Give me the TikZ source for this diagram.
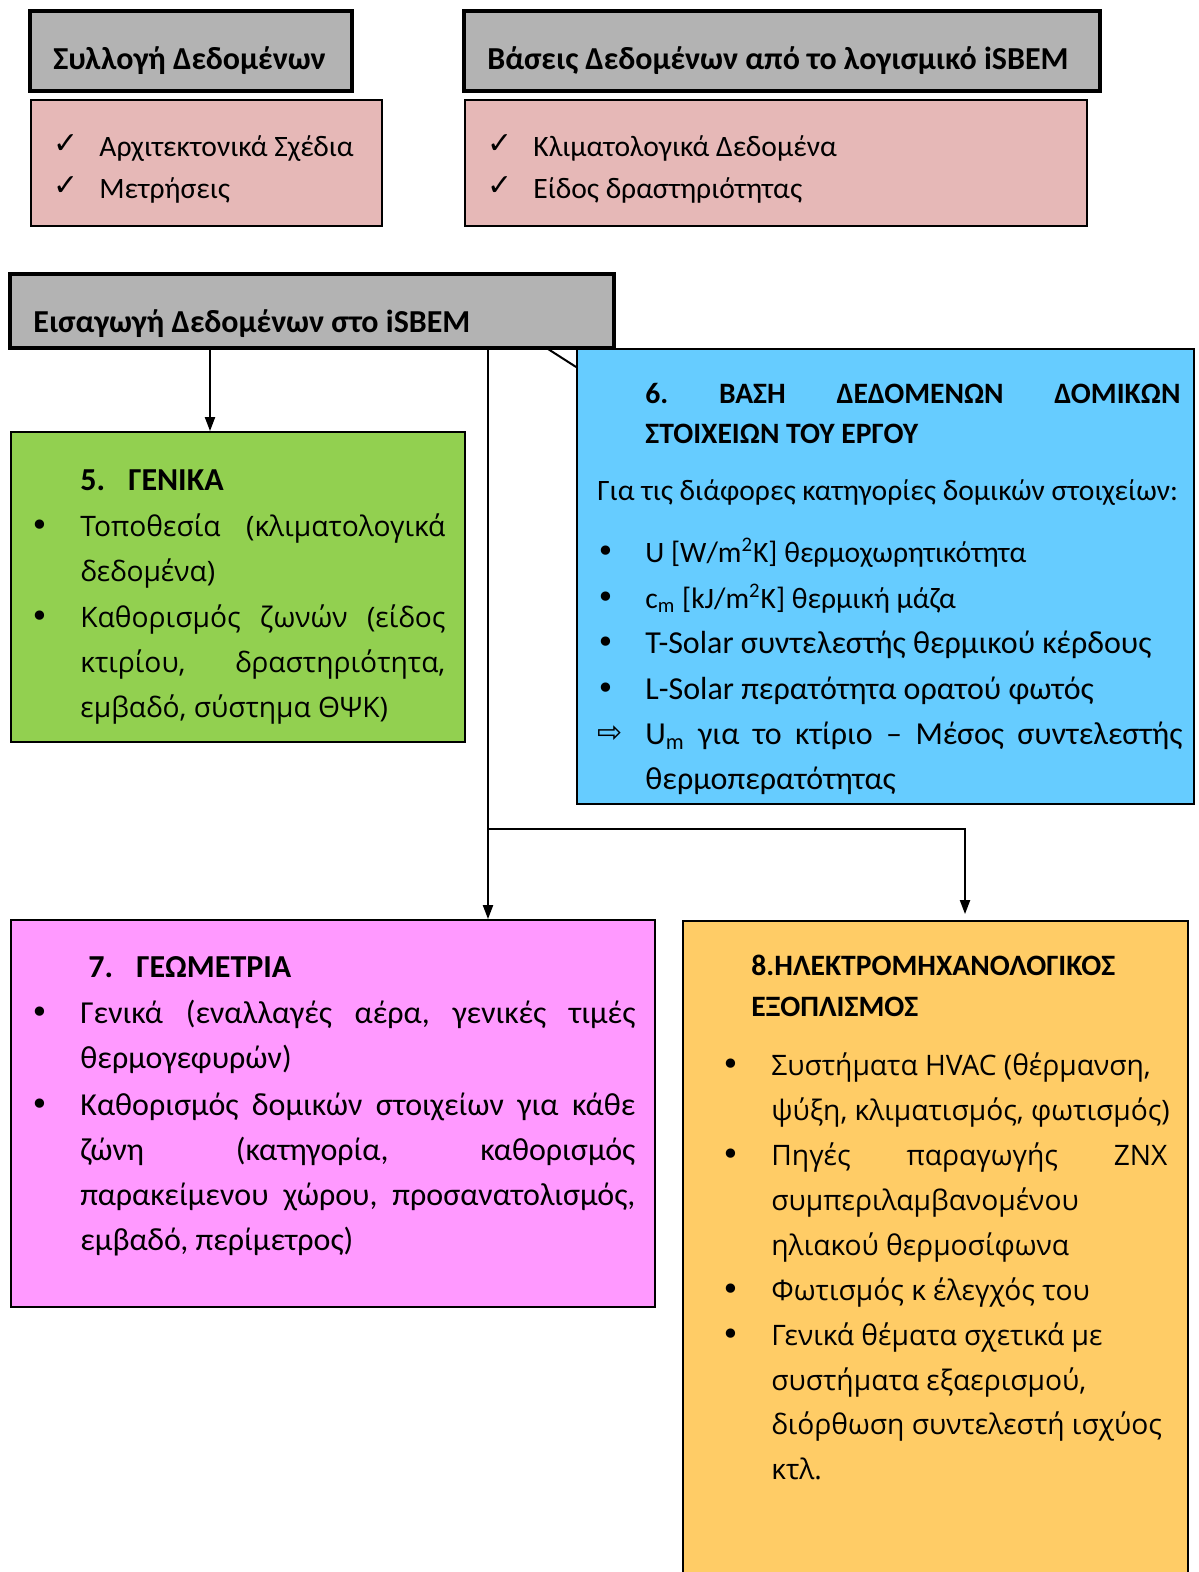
\documentclass[tikz,border=0pt]{standalone}
\usepackage{fontspec}
\setmainfont{Carlito}
\newfontfamily\osans{Open Sans}
\newfontfamily\dejavu{DejaVu Sans}
\usetikzlibrary{arrows.meta,fit}
\definecolor{hdrgray}{HTML}{B3B3B3}
\definecolor{pinkbg}{HTML}{E6B8B7}
\definecolor{greenbg}{HTML}{92D050}
\definecolor{bluebg}{HTML}{66CCFF}
\definecolor{magbg}{HTML}{FF99FF}
\definecolor{orangebg}{HTML}{FFCC66}
\frenchspacing
\begin{document}
\begin{tikzpicture}[x=0.5pt,y=-0.5pt,
 hdr/.style={draw=black, line width=2pt, fill=hdrgray, inner sep=0pt},
 bx/.style={draw=black, line width=0.9pt, inner sep=0pt},
 txt/.style={inner sep=0pt, anchor=base west, font=\fontsize{14.8}{17}\selectfont},
 txtl/.style={inner sep=0pt, anchor=base west, font=\fontsize{16}{18}\selectfont},
 txtb/.style={inner sep=0pt, anchor=base west, font=\fontsize{14.8}{17}\selectfont\bfseries},
 txtbl/.style={inner sep=0pt, anchor=base west, font=\fontsize{16}{18}\selectfont\bfseries},
 txth/.style={inner sep=0pt, anchor=base west, font=\fontsize{16}{18}\selectfont\bfseries},
 txto/.style={inner sep=0pt, anchor=base west, font=\osans\fontsize{14.1}{17}\selectfont},
 bull/.style={inner sep=0pt, anchor=base west, font=\dejavu\fontsize{16}{17}\selectfont},
 chk/.style={inner sep=0pt, anchor=base west, font=\dejavu\fontsize{15}{17}\selectfont},
 conn/.style={line width=1pt},
 arr/.style={conn, -{Triangle[length=7pt,width=5pt]}}]
\useasboundingbox (0,0) rectangle (1198,1572);
\clip (0,0) rectangle (1198,1572);
\fill[white] (0,0) rectangle (1198,1572);

% top left
\node[hdr, fit={(30,11) (352,91)}] (hA) {};
\node[txth] (hAt) at (53,70) {Συλλογή Δεδομένων};
\node[bx, fill=pinkbg, fit={(31,100) (382,226)}] (bA) {};
\node[chk] (cA1) at (53,154) {✓};
\node[txt] (tA1) at (99,157) {Αρχιτεκτονικά Σχέδια};
\node[chk] (cA2) at (53,196) {✓};
\node[txt] (tA2) at (99,199) {Μετρήσεις};

% top right
\node[hdr, fit={(464,11) (1100,91)}] (hB) {};
\node[txth] (hBt) at (487,70) {Βάσεις Δεδομένων από το λογισμικό iSBEM};
\node[bx, fill=pinkbg, fit={(465,100) (1087,226)}] (bB) {};
\node[chk] (cB1) at (487,154) {✓};
\node[txt] (tB1) at (533,157) {Κλιματολογικά Δεδομένα};
\node[chk] (cB2) at (487,196) {✓};
\node[txt] (tB2) at (533,199) {Είδος δραστηριότητας};

% input header
\node[hdr, fit={(10,274) (614,348)}] (hC) {};
\node[txth] (hCt) at (33,333) {Εισαγωγή Δεδομένων στο iSBEM};

% box 5
\node[bx, fill=greenbg, fit={(11,432) (465,742)}] (b5) {};
\node[txtbl] (t5n) at (80,490) {5.};
\node[txtbl] (t5t) at (128,490) {ΓΕΝΙΚΑ};
\node[bull] (u51) at (30,536) {•};
\node[bull] (u52) at (30,627) {•};
\node[txto] (t51) at (80,536) {\makebox[182.5pt][s]{Τοποθεσία (κλιματολογικά}};
\node[txto] (t52) at (80,581) {δεδομένα)};
\node[txto] (t53) at (80,627) {\makebox[182.5pt][s]{Καθορισμός ζωνών (είδος}};
\node[txto] (t54) at (80,672) {\makebox[182.5pt][s]{κτιρίου, δραστηριότητα,}};
\node[txto] (t55) at (80,717) {εμβαδό, σύστημα ΘΨΚ)};

% box 6
\node[bx, fill=bluebg, fit={(577,349) (1194,804)}] (b6) {};
\node[txtb] (t6a) at (645,404) {\makebox[267.5pt][s]{6. ΒΑΣΗ ΔΕΔΟΜΕΝΩΝ ΔΟΜΙΚΩΝ}};
\node[txtb] (t6b) at (645,444) {ΣΤΟΙΧΕΙΩΝ ΤΟΥ ΕΡΓΟΥ};
\node[txt] (t6c) at (597,501) {Για τις διάφορες κατηγορίες δομικών στοιχείων:};
\node[bull] (u61) at (596,562) {•};
\node[bull] (u62) at (596,608) {•};
\node[bull] (u63) at (596,653) {•};
\node[bull] (u64) at (596,699) {•};
\node[chk] (u65) at (597,742) {⇨};
\node[txt] (t61) at (645,562) {U [W/m\textsuperscript{2}K] θερμοχωρητικότητα};
\node[txt] (t62) at (645,608) {c\textsubscript{m} [kJ/m\textsuperscript{2}K] θερμική μάζα};
\node[txtl] (t63) at (645,653) {T-Solar συντελεστής θερμικού κέρδους};
\node[txtl] (t64) at (645,699) {L-Solar περατότητα ορατού φωτός};
\node[txtl] (t65) at (645,744) {\makebox[268.5pt][s]{U\textsubscript{m} για το κτίριο – Μέσος συντελεστής}};
\node[txtl] (t66) at (645,789) {θερμοπερατότητας};

% box 7
\node[bx, fill=magbg, fit={(11,920) (655,1307)}] (b7) {};
\node[txtbl] (t7n) at (88,977) {7.};
\node[txtbl] (t7t) at (136,977) {ΓΕΩΜΕΤΡΙΑ};
\node[bull] (u71) at (30,1023) {•};
\node[bull] (u72) at (30,1115) {•};
\node[txtl] (t71) at (80,1023) {\makebox[277.5pt][s]{Γενικά (εναλλαγές αέρα, γενικές τιμές}};
\node[txtl] (t72) at (80,1068) {θερμογεφυρών)};
\node[txtl] (t73) at (80,1115) {\makebox[277.5pt][s]{Καθορισμός δομικών στοιχείων για κάθε}};
\node[txtl] (t74) at (80,1160) {\makebox[277.5pt][s]{ζώνη (κατηγορία, καθορισμός}};
\node[txtl] (t75) at (80,1205) {\makebox[277.5pt][s]{παρακείμενου χώρου, προσανατολισμός,}};
\node[txtl] (t76) at (80,1250) {εμβαδό, περίμετρος)};

% box 8
\node[bx, fill=orangebg, fit={(683,921) (1188,1600)}] (b8) {};
\node[txtb] (t8a) at (751,975) {8.ΗΛΕΚΤΡΟΜΗΧΑΝΟΛΟΓΙΚΟΣ};
\node[txtb] (t8b) at (751,1016) {ΕΞΟΠΛΙΣΜΟΣ};
\node[bull] (u81) at (721,1075) {•};
\node[bull] (u82) at (721,1165) {•};
\node[bull] (u83) at (721,1300) {•};
\node[bull] (u84) at (721,1345) {•};
\node[txto] (t81) at (771,1075) {Συστήματα HVAC (θέρμανση,};
\node[txto] (t82) at (771,1120) {ψύξη, κλιματισμός, φωτισμός)};
\node[txto] (t83) at (771,1165) {\makebox[198pt][s]{Πηγές παραγωγής ΖΝΧ}};
\node[txto] (t84) at (771,1210) {συμπεριλαμβανομένου};
\node[txto] (t85) at (771,1255) {ηλιακού θερμοσίφωνα};
\node[txto] (t86) at (771,1300) {Φωτισμός κ έλεγχός του};
\node[txto] (t87) at (771,1345) {Γενικά θέματα σχετικά με};
\node[txto] (t88) at (771,1390) {συστήματα εξαερισμού,};
\node[txto] (t89) at (771,1434) {διόρθωση συντελεστή ισχύος};
\node[txto] (t8x) at (771,1479) {κτλ.};

% connectors
\coordinate (s1) at (210,0);
\coordinate (s2) at (488,0);
\coordinate (s3) at (965,0);
\coordinate (j) at (488,829);
\coordinate (d1) at (548,349);
\coordinate (d2y) at (0,367);
\draw[arr] (hC.south -| s1) -- (b5.north -| s1);
\draw[arr] (hC.south -| s2) -- (b7.north -| s2);
\draw[arr, shorten >=3pt] (j) -- (j -| s3) -- (b8.north -| s3);
\draw[conn] (d1) -- (b6.west |- d2y);
\end{tikzpicture}
\end{document}
